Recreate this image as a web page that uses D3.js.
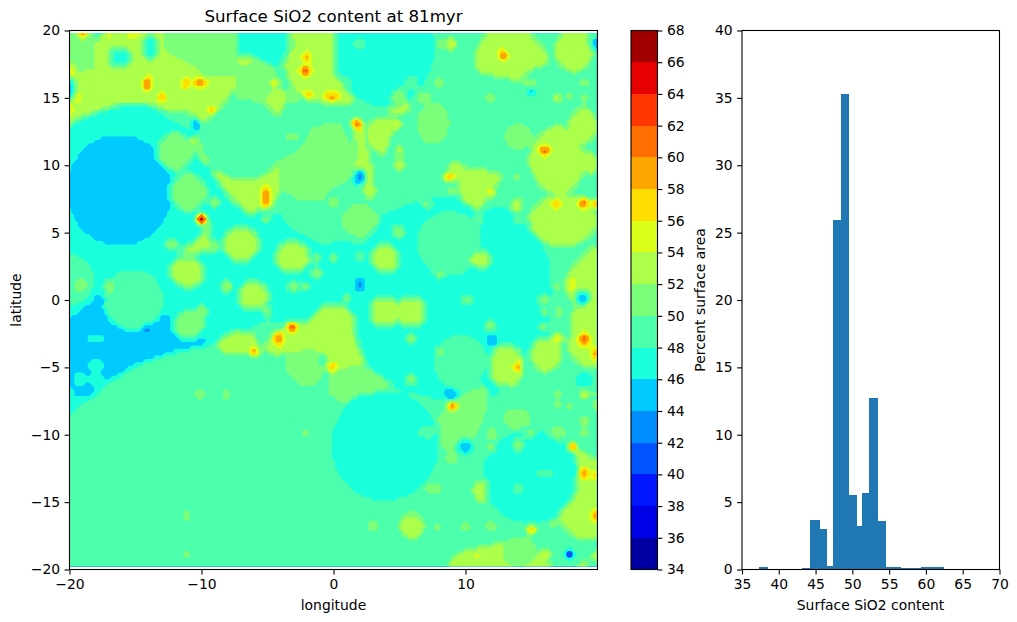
<!DOCTYPE html>
<html>
<head>
<meta charset="utf-8">
<script src="https://cdn.jsdelivr.net/npm/d3@7"></script>
<style>
  body { margin: 0; background: #fff; }
  text { font-family: "DejaVu Sans", sans-serif; fill: #000; }
</style>
</head>
<body>
<div id="chart"></div>
<script>
// contour levels and ticks
const levels = d3.range(34, 70, 2);
const levelColors = ["#0000a2", "#0000e6", "#0016ff", "#0053ff", "#008eff", "#00caff", "#1affdc", "#4bffac", "#7bff7b",
  "#acff4b", "#dcff1a", "#ffdd00", "#ffa500", "#ff6e00", "#ff3600", "#e60000", "#a10000"];
const lonTicks = [-20, -10, 0, 10];
const latTicks = [-20, -15, -10, -5, 0, 5, 10, 15, 20];
const histXTicks = [35, 40, 45, 50, 55, 60, 65, 70];
const histYTicks = [0, 5, 10, 15, 20, 25, 30, 35, 40];

// histogram
const binEdges = [37.3, 38.5, 43.2, 44.3, 45.56, 46.5, 47.37, 48.46, 49.6, 50.6, 51.35, 52.3, 53.45, 54.6, 55.6, 56.6, 59.35, 62.5];
const binPercent = [0.2, 0, 0.1, 3.7, 3.0, 0.25, 25.9, 35.3, 5.5, 3.2, 5.7, 12.7, 3.6, 0.2, 0.2, 0.1, 0.2];

// surface value outside every patch
const baseValue = 49;

// [value, outline in lon/lat], oldest surface first
const regions = [
  [47, [[-20, 12.9], [-17.5, 14.1], [-13.9, 14.5], [-12.4, 13.4], [-10.4, 12.4], [-9.9, 10.9], [-9.4, 9.6], [-7.6, 6.9], [-4.1, 6.4], [-3.1, 5.2], [-0.6, 4], [0.45, 4.5], [2.26, 3.96], [3.5, 6.2], [7.06, 7.67], [9.3, 7.67], [10.8, 6.56], [12.9, 6.9], [14.9, 5.44], [16.4, 2.97], [16.6, 0], [16.4, -2.8], [14.9, -4.6], [13.1, -6.5], [11.8, -7.3], [8.3, -7.5], [4.8, -6.6], [2.5, -4.6], [1.8, -2.35], [0, -1.5], [-5, -1.5], [-8.9, -3.3], [-11.5, -3.8], [-14.5, -4.8], [-17, -6.2], [-18.9, -7.4], [-20, -8.7]]],
  [45, [[-20, -1.36], [-17.5, 0.37], [-17, -1.1], [-16, -2.1], [-13.2, -1.6], [-12.9, -0.87], [-12, -1.36], [-12, -2.35], [-11, -2.85], [-9.9, -2.5], [-9.65, -3.3], [-12.2, -3.8], [-15.2, -4.8], [-17.5, -6.2], [-18.5, -7.4], [-19.5, -7.05], [-20, -6.3]]],
  [51, [[-20, 20], [-18, 20], [-18.2, 17.3], [-20, 16.5]]],
  [51, [[-12.9, 20], [-7.4, 20], [-7.4, 18.3], [-4.9, 17.6], [-4.3, 16.1], [-5.1, 13.9], [-7.4, 14.3], [-7.4, 16.7], [-9.6, 16.6], [-10.2, 17.1], [-12.9, 18.6]]],
  [53, [[-20, 16.6], [-18.2, 17.2], [-18.1, 18.9], [-17.3, 20], [-12.9, 20], [-12.9, 18.6], [-10.2, 17.1], [-9.6, 16.6], [-7.4, 16.7], [-7.4, 15.8], [-8.4, 14.3], [-9.4, 13.1], [-10.2, 13], [-11.2, 14.1], [-12.7, 14.1], [-13.9, 14.5], [-16.5, 14.6], [-17.5, 14.1], [-19.2, 13.6], [-20, 12.9]]],
  [53, [[-5.1, 15.6], [-3.6, 15.6], [-3.6, 14.6], [-4.1, 13.6], [-4.6, 13.8], [-5.1, 14.8]]],
  [53, [[-3.3, 19.5], [-3, 20], [0.45, 20], [0.24, 19.3], [0, 17], [0.75, 16.1], [1.75, 14.8], [1.25, 14.6], [-0.25, 14.6], [-1.3, 14.8], [-3.1, 15.6], [-3.6, 17.1]]],
  [53, [[-10.4, 12.25], [-9.9, 10.9], [-9.4, 10.1], [-9.9, 10], [-10.4, 11.4], [-11, 11.9]]],
  [53, [[-9.4, 9.8], [-7.6, 9.15], [-5.6, 9.65], [-4.35, 11], [-3.85, 10.4], [-4.2, 9.4], [-4.2, 7.7], [-4.6, 6.9], [-6.4, 6.3], [-7.6, 7.4], [-8.4, 8.4]]],
  [53, [[-11.7, 3.5], [-10.1, 4.7], [-9.4, 6.2], [-9.3, 5.7], [-9.4, 3.7], [-10.1, 3.5]]],
  [51, [[-1.6, 12.9], [0.45, 13.2], [1.25, 11.6], [2.26, 11.4], [2.26, 9.9], [1.5, 9.15], [-0.27, 8.2], [-0.8, 7.3], [-2.6, 7.4], [-3.85, 8.2], [-4, 10.4], [-2.3, 11.4]]],
  [53, [[2.6, 13.1], [3.4, 13.5], [5.2, 13.35], [4.5, 12.4], [3.8, 10.6], [2.5, 11.6]]],
  [53, [[1.6, 12.6], [2.26, 12.9], [2.5, 11.4], [2.8, 10.1], [3.1, 7.9], [2.64, 7.05], [2.26, 8.4], [1.75, 9.4], [1.6, 10.1], [2, 11.1], [1.6, 11.9]]],
  [53, [[4, 14.2], [5.8, 14.7], [5.9, 14.1], [4.5, 13.7]]],
  [53, [[8.95, 10.5], [10.34, 9.65], [13, 9.4], [11.85, 7.9], [11.1, 6.56], [9.7, 7.3], [9.6, 8.66], [8.95, 9.15]]],
  [53, [[10.85, 18.8], [11.85, 20], [14.6, 20], [16.15, 18.6], [16.4, 17.6], [14.9, 17.1], [14, 16], [12.9, 16.7], [10.85, 16.8]]],
  [53, [[19.95, 4.45], [20.2, 0], [18, 0], [17.8, 2.2]]],
  [53, [[18.3, 0.37], [20.2, 0.37], [20.2, -5], [18.7, -4.95], [17.8, -3.8], [18.2, -1.6]]],
  [53, [[-8.8, -3.3], [-8.2, -2.7], [-7.2, -2.2], [-5.9, -2.6], [-5.7, -3.3], [-5.9, -4], [-8.6, -3.8]]],
  [53, [[-5.4, -3.5], [-4.4, -2.35], [-2.1, -1.6], [-0.6, -0.37], [0.75, -0.37], [1.75, -1.36], [1.5, -2.85], [2.5, -4.8], [1.25, -4.8], [0.2, -5.8], [-0.55, -4.1], [-1.3, -3.8], [-3.6, -3.8], [-4.1, -4.3], [-5.1, -3.8]]],
  [51, [[-3.6, -3.8], [-1.3, -3.7], [-1.1, -4.3], [-0.8, -5.8], [-1.6, -6.4], [-2.6, -6.3], [-3.6, -5.3]]],
  [51, [[-0.27, -5.3], [2.5, -5], [4.8, -6.6], [1.5, -7.05], [0.75, -7.8], [-0.27, -7.05]]],
  [53, [[18.4, -11], [20.2, -12], [20.2, -17.7], [18.4, -17.7], [17.2, -16.5], [17.2, -15.5], [18.4, -14.2], [18.55, -12.5]]],
  [53, [[8.6, -20], [9.1, -18.9], [12.4, -18.1], [13.4, -17.8], [15.4, -18.7], [16.9, -20]]]
];

// large craters: [lon, lat, radius lon, radius lat, value]
const craters = [
  [-6.75, 11.85, 3.15, 2.95, 49],
  [-16.2, 8.15, 4, 4.1, 45],
  [3.8, 18.6, 3.8, 4.2, 47],
  [-5.5, 19.3, 1.9, 2.4, 47],
  [-5.9, 16.3, 1.6, 1.5, 51],
  [-20, 1.5, 1.9, 1.9, 49],
  [-15.2, 0.05, 2.3, 2.2, 49],
  [-11, 8, 1.35, 1.45, 51],
  [-12, 11, 1.4, 1.35, 51],
  [-7, 4.15, 1.38, 1.3, 53],
  [-11.1, 2.1, 1.3, 1.15, 53],
  [-3.1, 3.2, 1.25, 1.18, 53],
  [-6.1, 0.3, 1.15, 1.05, 53],
  [7.56, 13.1, 1.2, 1.55, 51],
  [14, 12.1, 1.05, 0.95, 51],
  [17, 10.4, 2.1, 2.5, 53],
  [18.9, 12.9, 1, 1.4, 53],
  [19.5, 10.1, 0.5, 0.8, 53],
  [18.2, 18.5, 1.45, 1.55, 53],
  [17.4, 5.9, 2.6, 1.9, 53],
  [2, 5.9, 1.4, 1.2, 51],
  [8.8, 4.2, 2.45, 2.4, 49],
  [3.9, 3.1, 1.05, 1.05, 53],
  [3.9, -0.87, 1.1, 1.1, 53],
  [5.9, -0.87, 1.1, 1.1, 53],
  [9.6, -4.6, 2, 2, 49],
  [13.1, -4.9, 1.3, 1.6, 53],
  [16.07, -4.08, 1.2, 1.25, 53],
  [3.9, -10.8, 4.05, 4.1, 47],
  [14.9, -13.1, 3.6, 3.45, 47],
  [13.95, -8.8, 1.05, 0.8, 51],
  [5.9, -16.8, 0.9, 0.95, 53],
  [14.1, -18.7, 1.3, 1.1, 51],
  [-11, -1.85, 1.15, 1.05, 51],
  [11.2, -14.2, 0.55, 0.95, 53],
  [11.2, 3, 0.8, 0.6, 53]
];

// second patch of plains that sits on top of the lower crater
const lateRegions = [
  [51, [[7.06, -7.7], [7.8, -8.8], [8.45, -8.3], [9.8, -6.9], [11.5, -6.3], [11.6, -8], [11.1, -9.5], [10.6, -10.5], [9.45, -10.5], [8.8, -11.3], [8.2, -10.8], [8.07, -9.3]]]
];

// small spots in the order they lie on each other: [lon, lat, radius lon, radius lat, value]
const spots = [
  // low-contrast spots
  [-16.2, 18, 0.75, 0.75, 47], [-13.9, 18.7, 0.55, 0.85, 47], [-3.1, 12.1, 0.5, 0.35, 51], [-6.7, 17.8, 0.6, 0.35, 53],
  [-3.1, 15.1, 0.5, 0.5, 51], [-3.2, 19, 0.4, 0.35, 51], [-9, 7.2, 0.45, 0.45, 51], [-12.2, 4.1, 0.6, 0.4, 51],
  [-9, 4, 0.45, 0.45, 51], [-5.1, 5.9, 0.35, 0.4, 51], [-1.3, 2, 0.5, 0.5, 51], [-3.1, 1, 0.45, 0.5, 51],
  [-2.1, 1, 0.3, 0.5, 51], [-8.1, 1, 0.4, 0.4, 53], [-1.3, 3.1, 0.5, 0.3, 51], [0, 3.1, 0.4, 0.3, 51],
  [-17, 1, 0.35, 0.55, 51], [-19.2, 1.1, 0.5, 0.5, 51], [0, 7.2, 0.45, 0.4, 51], [1.9, 19, 0.5, 0.4, 49],
  [5.9, 16.1, 0.6, 0.5, 49], [1, 16.1, 0.5, 0.4, 49], [8, 16.1, 0.35, 0.45, 51], [8.05, 19, 0.3, 0.4, 51],
  [14.9, 16.1, 0.5, 0.35, 51], [19, 16.1, 0.5, 0.35, 51], [17.9, 15.1, 0.4, 0.3, 51], [19, 15, 0.4, 0.3, 51],
  [11.9, 15, 0.45, 0.3, 51], [6.9, 15, 0.5, 0.5, 51], [4.9, 15.1, 0.5, 0.6, 51], [4.96, 11.1, 0.35, 0.4, 53],
  [5, 10, 0.35, 0.4, 53], [8.95, 8.2, 0.5, 0.3, 51], [13.95, 9.15, 0.3, 0.35, 51], [13.95, 7.1, 0.3, 0.5, 55],
  [10.97, 6, 0.3, 0.35, 51], [14, 6, 0.3, 0.35, 51], [7.06, 7.1, 0.5, 0.3, 51], [4.96, 5.07, 0.5, 0.5, 51],
  [2, 3.3, 0.4, 0.4, 49], [8, 1.9, 0.3, 0.3, 51], [16.9, 1, 0.3, 0.3, 51], [19.2, 11.4, 0.5, 0.3, 49],
  [0.9, 0.12, 0.4, 0.3, 51], [10.1, 0, 0.5, 0.3, 51], [16, 0, 0.5, 0.3, 51], [16, -0.87, 0.5, 0.3, 51],
  [15.9, -2, 0.35, 0.35, 51], [11.9, -1.9, 0.5, 0.4, 51], [16.98, -0.87, 0.3, 0.45, 51], [5.9, -2.9, 0.5, 0.3, 51],
  [8.07, -3.8, 0.35, 0.3, 51], [5.9, -5.9, 0.5, 0.4, 51], [18.97, -6, 0.7, 0.6, 47], [7.06, -9.85, 0.6, 0.45, 49],
  [8.95, -11.8, 0.5, 0.4, 51], [7.6, -14, 0.65, 0.35, 51], [12, -9.9, 0.45, 0.45, 51], [11.9, -11, 0.4, 0.3, 51],
  [14.9, -9.9, 0.45, 0.3, 51], [17, -9.9, 0.6, 0.5, 51], [14, -10.8, 0.3, 0.6, 51], [16, -12.9, 0.6, 0.3, 49],
  [14, -14, 0.4, 0.45, 49], [3, -16.8, 0.5, 0.35, 51], [7.9, -16.8, 0.3, 0.3, 51], [10, -16.8, 0.45, 0.35, 51],
  [11.9, -16.8, 0.45, 0.35, 51], [16.65, -16.7, 0.3, 0.3, 51], [5.9, -15.8, 0.4, 0.3, 51], [19, -7, 0.4, 0.3, 55],
  [17, -7, 0.3, 0.3, 51], [17, -7.8, 0.3, 0.3, 51], [17.9, -7.9, 0.4, 0.3, 51], [19, -9, 0.4, 0.3, 53],
  [19, -9.85, 0.45, 0.3, 51], [19.8, -7.8, 0.3, 0.3, 53], [19.8, -7, 0.3, 0.3, 51], [-10.15, -7, 0.45, 0.3, 51],
  [-8.1, -7, 0.3, 0.35, 51], [-11.1, -16, 0.3, 0.35, 51], [-11.1, -18.9, 0.3, 0.35, 51], [-2.15, -9.85, 0.3, 0.35, 51],
  [-10, -0.87, 0.5, 0.6, 51], [-5.1, -0.87, 0.4, 0.4, 51], [-18, -2.9, 0.6, 0.3, 47], [-18, -4.9, 0.6, 0.55, 47],
  [-19.2, -5.9, 0.55, 0.5, 47], [-18, -5.9, 0.6, 0.45, 47], [19.8, -19, 0.3, 0.4, 53], [18.9, -19.6, 0.4, 0.3, 53],
  // cold spots
  [-20, 15.7, 0.5, 0.8, 44.5], [-10.45, 13.05, 0.3, 0.6, 44], [19.8, 19, 0.35, 0.45, 44], [15.1, 15.4, 0.4, 0.3, 44.5],
  [2.03, 9.1, 0.45, 0.55, 43], [2.06, 1.06, 0.4, 0.5, 43], [18.9, 0.2, 0.6, 0.55, 44.5], [12, -2.9, 0.45, 0.45, 44.5],
  [8.87, -7, 0.6, 0.5, 44.5], [10.04, -10.9, 0.55, 0.6, 44.5], [-14.1, -2.1, 0.35, 0.3, 42], [-17.8, 0.2, 0.4, 0.3, 44.5],
  [17.9, -18.9, 0.35, 0.27, 34],
  // hot spots
  [-14.1, 16.1, 0.28, 0.45, 62], [-11.2, 16.1, 0.27, 0.4, 60], [-10.15, 16.1, 0.5, 0.35, 60], [-4.35, 16.1, 0.35, 0.35, 57.5],
  [-13, 15.1, 0.27, 0.4, 58], [-9.15, 14.1, 0.4, 0.27, 58], [-2.1, 18, 0.27, 0.27, 61], [-2.1, 17, 0.5, 0.35, 62],
  [-2.15, 15.3, 0.27, 0.27, 57], [-1.8, 15.1, 0.3, 0.27, 59], [-0.1, 15.1, 0.5, 0.4, 59], [-5.2, 8, 0.27, 0.4, 60],
  [-5.1, 7.2, 0.27, 0.4, 60], [-10, 6, 0.27, 0.45, 74], [-19, 19.75, 0.35, 0.3, 59], [-17.1, 19.7, 0.3, 0.3, 55],
  [-15.2, 19.7, 0.5, 0.3, 55], [-19.8, 17.1, 0.3, 0.5, 55], [-19.4, 15, 0.3, 0.3, 55], [-20, 14.05, 0.3, 0.5, 55],
  [12.8, 18.2, 0.27, 0.35, 62], [8.95, 19, 0.4, 0.35, 55.5], [16.9, 15, 0.27, 0.27, 55.5], [1.8, 13.1, 0.45, 0.4, 62],
  [4.86, 13, 0.35, 0.27, 55.5], [8.8, 9.15, 0.35, 0.3, 59], [11.9, 8, 0.35, 0.3, 55], [16, 11.1, 0.4, 0.35, 62],
  [16.95, 7.2, 0.27, 0.3, 61], [19, 7.2, 0.35, 0.3, 62], [19.9, 7.2, 0.27, 0.3, 61], [18, 1.06, 0.5, 0.55, 55],
  [-3.1, -2, 0.5, 0.35, 62], [-4.15, -2.85, 0.4, 0.55, 60], [-6, -3.85, 0.4, 0.35, 60], [-0.1, -5, 0.4, 0.35, 58],
  [17, -2.85, 0.27, 0.45, 55], [13.95, -5, 0.27, 0.35, 61], [18.97, -2.9, 0.45, 0.45, 61.5], [19.86, -3.9, 0.27, 0.4, 61],
  [8.95, -7.9, 0.35, 0.3, 61], [18.1, -10.8, 0.27, 0.27, 64], [19, -12.9, 0.35, 0.5, 60], [19.85, -13, 0.27, 0.3, 58],
  [19.86, -16, 0.27, 0.4, 61], [15, -17, 0.45, 0.27, 59], [16, -18.9, 0.4, 0.3, 55], [10.97, -19, 0.27, 0.27, 55]
];

// Dimensions
const width = 1017, height = 622;
const mapBox = { left: 69.5, right: 597.5, top: 30.5, bottom: 569.5 };
const barBox = { left: 631, right: 657.5, top: 30.5, bottom: 569.5 };
const histBox = { left: 742, right: 999.5, top: 30.5, bottom: 569.5 };

const svg = d3.select("#chart").append("svg")
  .attr("width", width)
  .attr("height", height)
  .style("display", "block");

// Scales
const x = d3.scaleLinear().domain([-20, 20]).range([mapBox.left, mapBox.right]);
const y = d3.scaleLinear().domain([-20, 20]).range([mapBox.bottom, mapBox.top]);
const barY = d3.scaleLinear().domain([34, 68]).range([barBox.bottom, barBox.top]);
const histX = d3.scaleLinear().domain([35, 70]).range([histBox.left, histBox.right]);
const histY = d3.scaleLinear().domain([0, 40]).range([histBox.bottom, histBox.top]);
const color = d3.scaleThreshold().domain(levels.slice(1, -1)).range(levelColors);

// Lay the patches on a 0.25 degree grid
const step = 0.25, lon0 = -20, lat0 = 19.75;
const nx = 161, ny = 159;
let grid = new Float64Array(nx * ny).fill(baseValue);

function paintRegion([value, pts]) {
  const lons = pts.map(p => p[0]), lats = pts.map(p => p[1]);
  const [a, b] = d3.extent(lons), [c, d] = d3.extent(lats);
  for (let j = 0; j < ny; j++) {
    const lat = lat0 - j * step;
    if (lat < c || lat > d) continue;
    for (let i = 0; i < nx; i++) {
      const lon = lon0 + i * step;
      if (lon < a || lon > b) continue;
      if (d3.polygonContains(pts, [lon, lat])) grid[j * nx + i] = value;
    }
  }
}

function paintEllipse([lon, lat, rx, ry, value]) {
  for (let j = 0; j < ny; j++) {
    const dy = (lat0 - j * step - lat) / ry;
    if (Math.abs(dy) > 1) continue;
    for (let i = 0; i < nx; i++) {
      const dx = (lon0 + i * step - lon) / rx;
      if (dx * dx + dy * dy <= 1) grid[j * nx + i] = value;
    }
  }
}

regions.forEach(paintRegion);
craters.forEach(paintEllipse);
lateRegions.forEach(paintRegion);
spots.forEach(paintEllipse);

// soften once so that patches get the thin halo of in-between levels
function soften(src) {
  const w = [0.25, 0.5, 0.25];
  const pass = (get, set, n, m) => {
    for (let a = 0; a < m; a++) for (let b = 0; b < n; b++) {
      let s = 0;
      for (let k = -1; k <= 1; k++) s += w[k + 1] * get(a, Math.min(n - 1, Math.max(0, b + k)));
      set(a, b, s);
    }
  };
  const t = new Float64Array(src.length), out = new Float64Array(src.length);
  pass((a, b) => src[a * nx + b], (a, b, v) => { t[a * nx + b] = v; }, nx, ny);
  pass((a, b) => t[b * nx + a], (a, b, v) => { out[b * nx + a] = v; }, ny, nx);
  return out;
}
grid = soften(grid);

// Filled contours
svg.append("clipPath").attr("id", "map-clip")
  .append("rect")
  .attr("x", x(-20))
  .attr("y", y(19.79))
  .attr("width", x(19.93) - x(-20))
  .attr("height", y(-19.75) - y(19.79));

const toMap = d3.geoTransform({
  point(px, py) {
    this.stream.point(x(lon0 + (px - 0.5) * step), y(lat0 - (py - 0.5) * step));
  }
});
const contourPath = d3.geoPath(toMap);
const bands = d3.contours().size([nx, ny]).smooth(false).thresholds(levels.slice(0, -1))(grid);

svg.append("g")
  .attr("clip-path", "url(#map-clip)")
  .selectAll("path")
  .data(bands)
  .join("path")
  .attr("d", contourPath)
  .attr("fill", d => color(d.value));

// Colorbar
svg.append("g")
  .selectAll("rect")
  .data(levels.slice(0, -1))
  .join("rect")
  .attr("x", barBox.left)
  .attr("width", barBox.right - barBox.left)
  .attr("y", d => barY(d + 2))
  .attr("height", d => barY(d) - barY(d + 2))
  .attr("fill", d => color(d))
  .attr("shape-rendering", "crispEdges");

// Histogram
svg.append("g")
  .selectAll("rect")
  .data(binPercent)
  .join("rect")
  .attr("x", (d, i) => histX(binEdges[i]))
  .attr("width", (d, i) => histX(binEdges[i + 1]) - histX(binEdges[i]))
  .attr("y", d => histY(d))
  .attr("height", d => histY(0) - histY(d))
  .attr("fill", "#1f77b4")
  .attr("shape-rendering", "crispEdges");

// Frames and axes
function frame(box) {
  svg.append("rect")
    .attr("x", box.left)
    .attr("y", box.top)
    .attr("width", box.right - box.left)
    .attr("height", box.bottom - box.top)
    .attr("fill", "none")
    .attr("stroke", "#000")
    .attr("stroke-width", 1.1);
}
[mapBox, barBox, histBox].forEach(frame);

function drawAxis(axis, dx, dy) {
  const g = svg.append("g").attr("transform", `translate(${dx},${dy})`);
  g.call(axis.tickSize(4.9).tickPadding(4.5));
  g.select(".domain").remove();
  g.selectAll(".tick line").attr("stroke", "#000").attr("stroke-width", 1.1);
  g.selectAll(".tick text").style("font-size", "13.9px").style("font-family", '"DejaVu Sans", sans-serif');
  return g;
}

drawAxis(d3.axisBottom(x).tickValues(lonTicks), 0, mapBox.bottom);
drawAxis(d3.axisLeft(y).tickValues(latTicks), mapBox.left, 0);
drawAxis(d3.axisRight(barY).tickValues(levels.slice(0, -1).concat(68)), barBox.right, 0);
drawAxis(d3.axisBottom(histX).tickValues(histXTicks), 0, histBox.bottom);
drawAxis(d3.axisLeft(histY).tickValues(histYTicks), histBox.left, 0);

// Titles and labels
function label(txt, px, py, size, rotate) {
  const t = svg.append("text")
    .attr("text-anchor", "middle")
    .style("font-size", size + "px")
    .text(txt);
  if (rotate) t.attr("transform", `translate(${px},${py}) rotate(-90)`);
  else t.attr("x", px).attr("y", py);
}
label("Surface SiO2 content at 81myr", 333.5, 22, 16.67);
label("longitude", 333.5, 610, 13.9);
label("latitude", 21, 300, 13.9, true);
label("Surface SiO2 content", 870.5, 610, 13.9);
label("Percent surface area", 705, 300, 13.9, true);
</script>
</body>
</html>
